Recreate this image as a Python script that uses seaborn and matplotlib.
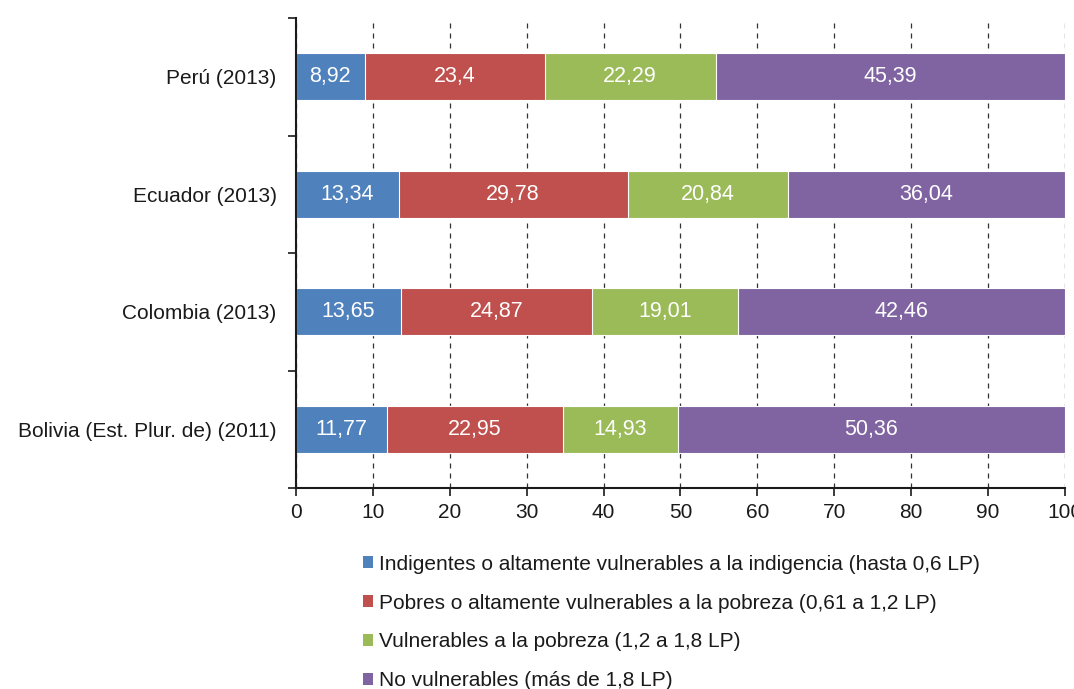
import numpy as np
import pandas as pd
import matplotlib
matplotlib.use("Agg")
import matplotlib.pyplot as plt
import seaborn as sns
from matplotlib.patches import Patch

# Data
countries = ["Perú (2013)", "Ecuador (2013)", "Colombia (2013)",
             "Bolivia (Est. Plur. de) (2011)"]
indigentes = [8.92, 13.34, 13.65, 11.77]
pobres = [23.4, 29.78, 24.87, 22.95]
vulnerables = [22.29, 20.84, 19.01, 14.93]
no_vulnerables = [45.39, 36.04, 42.46, 50.36]

series_names = [
    "Indigentes o altamente vulnerables a la indigencia (hasta 0,6 LP)",
    "Pobres o altamente vulnerables a la pobreza (0,61 a 1,2 LP)",
    "Vulnerables a la pobreza (1,2 a 1,8 LP)",
    "No vulnerables (más de 1,8 LP)",
]
colors = ["#4F81BD", "#C0504D", "#9BBB59", "#8064A2"]

sns.set_theme(style="white")
plt.rcParams["font.family"] = ["Liberation Sans", "DejaVu Sans"]
plt.rcParams["font.size"] = 15

series = [indigentes, pobres, vulnerables, no_vulnerables]
df = pd.DataFrame({"País": countries})
cum = np.zeros(len(countries))
for name, vals in zip(series_names, series):
    df[name] = vals
    cum = cum + np.array(vals)
    df[name + "_cum"] = cum

fig = plt.figure(figsize=(10.74, 6.89), dpi=100)
ax = fig.add_axes([0.2756, 0.2917, 0.716, 0.682])

# Stacked bars: draw cumulative totals back to front
for name, color in reversed(list(zip(series_names, colors))):
    sns.barplot(data=df, x=name + "_cum", y="País", color=color,
                width=0.4, orient="h", ax=ax, edgecolor="white",
                linewidth=0.8, saturation=1, zorder=2)

# Segment labels
for name in series_names:
    for i, (v, c) in enumerate(zip(df[name], df[name + "_cum"])):
        ax.text(c - v / 2, i, f"{v:g}".replace(".", ","), color="white",
                ha="center", va="center", fontsize=15.5, zorder=3)

ax.set_xlim(0, 100)
ax.set_ylim(3.5, -0.5)
ax.set_xticks(np.arange(0, 101, 10))
ax.set_xlabel("")
ax.set_ylabel("")
ax.xaxis.grid(True, linestyle=(0, (4, 4)), color="#333333", linewidth=0.9)
ax.set_axisbelow(True)

# y ticks at the category boundaries, labels centred on the bars
ax.set_yticks(np.arange(-0.5, 4, 1.0))
ax.set_yticklabels([])
ax.set_yticks(np.arange(len(countries)), minor=True)
ax.set_yticklabels(countries, minor=True)
ax.tick_params(axis="y", which="minor", length=0, pad=14, labelsize=15,
               colors="#1a1a1a")
ax.tick_params(axis="y", which="major", direction="out", length=6,
               width=1.2, color="#1a1a1a", left=True)
ax.tick_params(axis="x", direction="out", length=6, width=1.2,
               color="#1a1a1a", bottom=True, labelsize=15, pad=5,
               labelcolor="#1a1a1a")

sns.despine(ax=ax, top=True, right=True)
for side in ["left", "bottom"]:
    ax.spines[side].set_color("#1a1a1a")
    ax.spines[side].set_linewidth(1.5)

handles = [Patch(facecolor=c, edgecolor="none") for c in colors]
fig.legend(handles, series_names, loc="upper left",
           bbox_to_anchor=(0.330, 0.207), frameon=False, fontsize=15,
           handlelength=0.5, handleheight=0.5, handletextpad=0.3,
           labelspacing=0.95, borderaxespad=0, labelcolor="#1a1a1a")

fig.savefig("out.png", dpi=100)
